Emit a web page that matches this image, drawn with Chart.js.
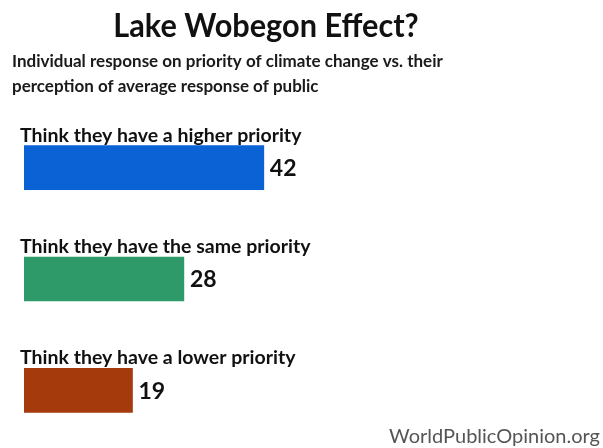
<!DOCTYPE html>
<html>
<head>
<meta charset="utf-8">
<script src="https://cdn.jsdelivr.net/npm/chart.js@4"></script>
<style>
  html, body { margin: 0; padding: 0; background: #fff; }
  #wrap { width: 603px; height: 448px; }
</style>
</head>
<body>
<div id="wrap"><canvas id="myChart" width="603" height="448"></canvas></div>
<script>
// datos del grafico
const titulo = 'Lake Wobegon Effect?';
const subtitulo = ['Individual response on priority of climate change vs. their', 'perception of average response of public'];
const categorias = ['Think they have a higher priority', 'Think they have the same priority', 'Think they have a lower priority'];
const valores = [42, 28, 19];
const colores = ['#0b62d4', '#2f9a69', '#a53a0d'];
const fuente = 'WorldPublicOpinion.org';

// dibuja titulo, etiquetas y valores
const textos = {
  id: 'textos',
  afterDatasetsDraw(chart) {
    const ctx = chart.ctx;
    ctx.save();
    ctx.fillStyle = '#111';
    ctx.textBaseline = 'alphabetic';

    // titulo un poco estrecho como el original
    ctx.save();
    ctx.font = 'bold 33px Lato';
    ctx.textAlign = 'center';
    ctx.translate(266, 37);
    ctx.scale(0.93, 1);
    ctx.fillText(titulo, 0, 0);
    ctx.restore();

    ctx.fillStyle = '#1a1a1a';
    ctx.font = 'bold 17px Lato';
    ctx.textAlign = 'left';
    ctx.fillText(subtitulo[0], 12, 67);
    ctx.fillText(subtitulo[1], 12, 92);

    const meta = chart.getDatasetMeta(0);
    meta.data.forEach((bar, i) => {
      const top = bar.y - bar.height / 2;
      ctx.fillStyle = '#111';
      ctx.font = 'bold 19.5px Lato';
      ctx.textAlign = 'left';
      ctx.textBaseline = 'alphabetic';
      ctx.fillText(categorias[i], 20, top - 4);

      ctx.font = 'bold 23px Lato';
      ctx.textBaseline = 'middle';
      ctx.fillText(valores[i], bar.x + 6, bar.y + 1);
    });

    ctx.fillStyle = '#555';
    ctx.font = '20px Lato';
    ctx.textAlign = 'right';
    ctx.textBaseline = 'alphabetic';
    ctx.fillText(fuente, 600, 443);
    ctx.restore();
  }
};

var ctx = document.getElementById('myChart').getContext('2d');
new Chart(ctx, {
  type: 'bar',
  data: {
    labels: categorias,
    datasets: [{
      data: valores,
      backgroundColor: colores,
      borderWidth: 0,
      barThickness: 44
    }]
  },
  options: {
    indexAxis: 'y',
    responsive: false,
    animation: false,
    devicePixelRatio: 1,
    layout: { padding: { left: 24, right: 8, top: 112, bottom: 2 } },
    scales: {
      x: { display: false, min: 0, max: 100 },
      y: { display: false }
    },
    plugins: {
      legend: { display: false },
      tooltip: { enabled: false }
    }
  },
  plugins: [textos]
});
</script>
</body>
</html>
